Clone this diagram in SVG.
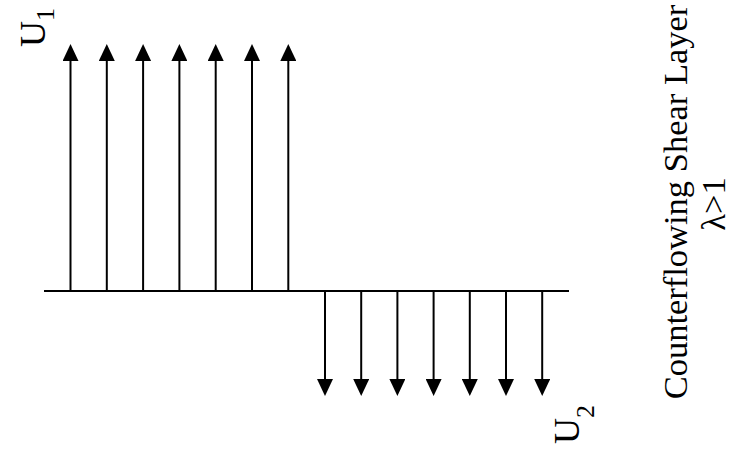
<svg xmlns="http://www.w3.org/2000/svg" width="735" height="460" viewBox="0 0 735 460">
<style>
.ln{stroke:#000;stroke-width:2;fill:none}
text{font-family:'Liberation Serif','Times New Roman','DejaVu Serif',serif;fill:#000}
</style>
<defs>
<marker id="ah" markerUnits="userSpaceOnUse" viewBox="0 0 17 16" refX="0" refY="8" markerWidth="17" markerHeight="16" orient="auto">
<path d="M0,0 L17,8 L0,16 z" fill="#000"/>
</marker>
</defs>
<g id="baseline">
<line class="ln" x1="44" y1="291" x2="569" y2="291"/>
</g>
<g id="connectors">
<line class="ln" x1="70.5" y1="291" x2="70.5" y2="61" marker-end="url(#ah)"/>
<line class="ln" x1="106.8" y1="291" x2="106.8" y2="61" marker-end="url(#ah)"/>
<line class="ln" x1="143.1" y1="291" x2="143.1" y2="61" marker-end="url(#ah)"/>
<line class="ln" x1="179.4" y1="291" x2="179.4" y2="61" marker-end="url(#ah)"/>
<line class="ln" x1="215.7" y1="291" x2="215.7" y2="61" marker-end="url(#ah)"/>
<line class="ln" x1="252" y1="291" x2="252" y2="61" marker-end="url(#ah)"/>
<line class="ln" x1="288.3" y1="291" x2="288.3" y2="61" marker-end="url(#ah)"/>
<line class="ln" x1="325" y1="291" x2="325" y2="379" marker-end="url(#ah)"/>
<line class="ln" x1="361.2" y1="291" x2="361.2" y2="379" marker-end="url(#ah)"/>
<line class="ln" x1="397.4" y1="291" x2="397.4" y2="379" marker-end="url(#ah)"/>
<line class="ln" x1="433.6" y1="291" x2="433.6" y2="379" marker-end="url(#ah)"/>
<line class="ln" x1="469.8" y1="291" x2="469.8" y2="379" marker-end="url(#ah)"/>
<line class="ln" x1="506" y1="291" x2="506" y2="379" marker-end="url(#ah)"/>
<line class="ln" x1="542.2" y1="291" x2="542.2" y2="379" marker-end="url(#ah)"/>
</g>
<g id="label-u1">
<text font-size="36" transform="translate(45,47) rotate(-90)">U<tspan font-size="26" dy="9">1</tspan></text>
</g>
<g id="label-u2">
<text font-size="36" transform="translate(579,444) rotate(-90)">U<tspan font-size="26" dy="15">2</tspan></text>
</g>
<g id="title">
<text font-size="34.5" text-anchor="middle" transform="translate(687,202) rotate(-90)">Counterflowing Shear Layer</text>
<text font-size="34.5" text-anchor="middle" transform="translate(725,204) rotate(-90)">λ&gt;1</text>
</g>
</svg>
